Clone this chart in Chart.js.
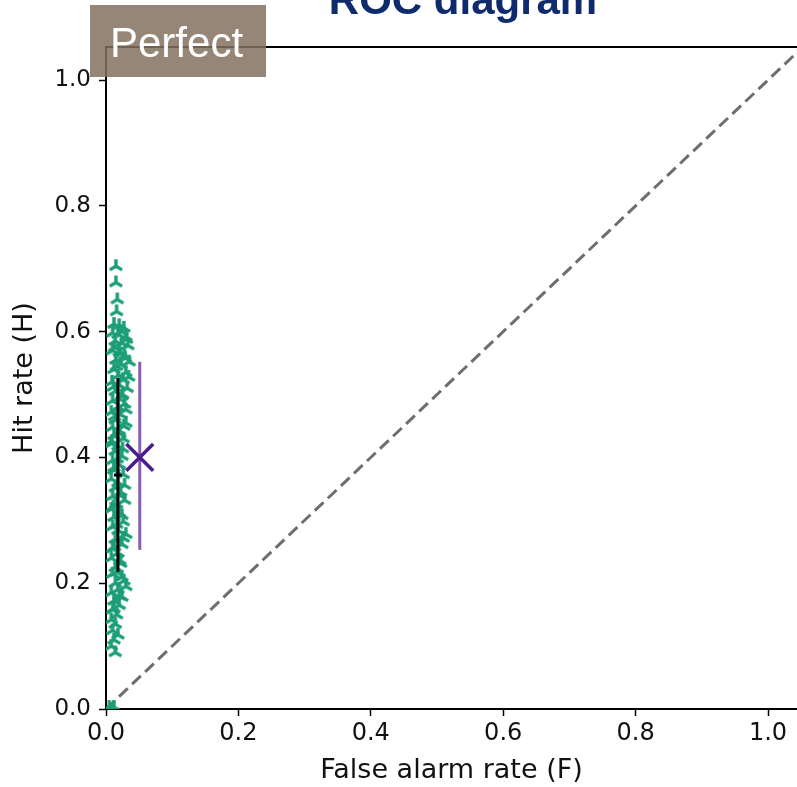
<!DOCTYPE html>
<html>
<head>
<meta charset="utf-8">
<title>ROC diagram</title>
<script src="https://cdn.jsdelivr.net/npm/chart.js@4.4.1/dist/chart.umd.min.js"></script>
<style>
  html, body { margin: 0; padding: 0; background: #fff; }
  #wrap { width: 797px; height: 787px; position: relative; }
</style>
</head>
<body>
<div id="wrap"><canvas id="roc"></canvas></div>
<script>
// Sample points: false alarm rate (F) and hit rate (H)
const falseAlarm = [
  0.015, 0.015, 0.017, 0.016, 0.012, 0.020, 0.027, 0.010, 0.018, 0.030,
  0.014, 0.024, 0.033, 0.010, 0.020, 0.028, 0.015, 0.035, 0.022, 0.012,
  0.030, 0.018, 0.026, 0.009, 0.020, 0.032, 0.014, 0.024, 0.010, 0.028,
  0.018, 0.008, 0.022, 0.014, 0.030, 0.010, 0.020, 0.012, 0.026, 0.008,
  0.018, 0.014, 0.024, 0.010, 0.020, 0.012, 0.026, 0.008, 0.018, 0.014,
  0.022, 0.010, 0.028, 0.016, 0.008, 0.020, 0.012, 0.026, 0.010, 0.018,
  0.030, 0.014, 0.024, 0.010, 0.018, 0.008, 0.022, 0.014, 0.010, 0.024,
  0.014, 0.030, 0.018, 0.008, 0.024, 0.012, 0.020, 0.010, 0.016, 0.008,
  0.014, 0.010, 0.018, 0.012, 0.008, 0.014, 0.005, 0.012, 0.009,
  0.024, 0.031, 0.013, 0.022, 0.029, 0.016, 0.034, 0.011, 0.025, 0.019,
  0.030, 0.013, 0.027, 0.021, 0.009, 0.025, 0.017, 0.012, 0.028, 0.021,
  0.011, 0.024, 0.016, 0.026, 0.013, 0.021, 0.016, 0.027, 0.020, 0.012
];
const hitRate = [
  0.704, 0.678, 0.651, 0.632, 0.612, 0.610, 0.606, 0.598, 0.596, 0.592,
  0.585, 0.582, 0.578, 0.570, 0.568, 0.562, 0.555, 0.552, 0.548, 0.540,
  0.535, 0.530, 0.524, 0.520, 0.515, 0.510, 0.505, 0.498, 0.490, 0.485,
  0.480, 0.472, 0.468, 0.460, 0.455, 0.448, 0.442, 0.435, 0.430, 0.422,
  0.418, 0.410, 0.402, 0.395, 0.388, 0.380, 0.373, 0.366, 0.360, 0.352,
  0.345, 0.338, 0.332, 0.326, 0.318, 0.312, 0.305, 0.298, 0.290, 0.284,
  0.278, 0.270, 0.262, 0.255, 0.248, 0.240, 0.232, 0.225, 0.215, 0.210,
  0.200, 0.195, 0.190, 0.185, 0.178, 0.172, 0.165, 0.158, 0.150, 0.142,
  0.135, 0.125, 0.118, 0.110, 0.100, 0.090, 0.003, 0.003, 0.000,
  0.600, 0.588, 0.575, 0.565, 0.558, 0.545, 0.528, 0.512, 0.500, 0.494,
  0.476, 0.465, 0.450, 0.438, 0.426, 0.414, 0.398, 0.384, 0.356, 0.340,
  0.322, 0.308, 0.294, 0.272, 0.258, 0.236, 0.218, 0.204, 0.180, 0.160
];

// Spread of the samples (black) and the reference forecast (purple)
const sampleF = [0.018, 0.018];
const sampleH = [0.218, 0.526];
const sampleMean = [0.372];
const refF = [0.051, 0.051];
const refH = [0.253, 0.552];
const refPoint = [0.40];

// No-skill diagonal
const diagF = [0, 1.1];
const diagH = [0, 1.1];

// Axis ticks
const tickValues = [0.0, 0.2, 0.4, 0.6, 0.8, 1.0];

const green = "#1b9e77";

// tri_up marker like matplotlib '2'
function makeTri(color) {
  const c = document.createElement("canvas");
  c.width = 16;
  c.height = 16;
  const g = c.getContext("2d");
  g.strokeStyle = color;
  g.lineWidth = 3.4;
  g.beginPath();
  g.moveTo(8, 8); g.lineTo(8, 1);
  g.moveTo(8, 8); g.lineTo(1.8, 11.6);
  g.moveTo(8, 8); g.lineTo(14.2, 11.6);
  g.stroke();
  return c;
}
const triMarker = makeTri(green);

const toPoints = (xs, ys) => xs.map((x, i) => ({ x: x, y: ys[i] }));

// Top spine, title and the "Perfect" tag
const decorPlugin = {
  id: "decor",
  afterDraw(chart) {
    const { ctx, chartArea } = chart;
    ctx.save();
    ctx.strokeStyle = "#000";
    ctx.lineWidth = 2;
    ctx.beginPath();
    ctx.moveTo(chartArea.left - 1, chartArea.top);
    ctx.lineTo(chartArea.right, chartArea.top);
    ctx.stroke();

    ctx.fillStyle = "#0f2b6e";
    ctx.font = "bold 42px 'Liberation Sans', Arial, sans-serif";
    ctx.textAlign = "center";
    ctx.textBaseline = "alphabetic";
    ctx.fillText("ROC diagram", 463, 14);

    ctx.fillStyle = "rgba(130, 113, 95, 0.85)";
    ctx.fillRect(90, 5, 176, 72);
    ctx.fillStyle = "#fff";
    ctx.font = "42px 'Liberation Sans', Arial, sans-serif";
    ctx.textAlign = "left";
    ctx.fillText("Perfect", 110, 57);
    ctx.restore();
  },
};

const noEdgePadding = (scale) => {
  scale.paddingLeft = 0;
  scale.paddingRight = 0;
};

const ctx = document.getElementById("roc").getContext("2d");
new Chart(ctx, {
  type: "scatter",
  data: {
    datasets: [
      {
        label: "diagonal",
        type: "line",
        data: toPoints(diagF, diagH),
        borderColor: "#6e6e6e",
        borderWidth: 3,
        borderDash: [12, 6],
        pointRadius: 0,
        order: 5,
      },
      {
        label: "samples",
        data: toPoints(falseAlarm, hitRate),
        pointStyle: triMarker,
        pointRadius: 8,
        order: 4,
      },
      {
        label: "sample range",
        type: "line",
        data: toPoints(sampleF, sampleH),
        borderColor: "#000",
        borderWidth: 3,
        pointRadius: 0,
        order: 3,
      },
      {
        label: "sample mean",
        data: toPoints([sampleF[0]], sampleMean),
        pointStyle: "line",
        pointRadius: 4,
        borderColor: "#000",
        borderWidth: 3,
        order: 2,
      },
      {
        label: "reference range",
        type: "line",
        data: toPoints(refF, refH),
        borderColor: "#8a5bb3",
        borderWidth: 3,
        pointRadius: 0,
        order: 1,
      },
      {
        label: "reference",
        data: toPoints([refF[0]], refPoint),
        pointStyle: "crossRot",
        pointRadius: 19,
        borderColor: "#4a1d8c",
        borderWidth: 3.5,
        order: 0,
      },
    ],
  },
  options: {
    responsive: true,
    maintainAspectRatio: false,
    animation: false,
    layout: {
      autoPadding: false,
      padding: { top: 47, right: 0, left: 0, bottom: 0 },
    },
    plugins: {
      legend: { display: false },
      tooltip: { enabled: false },
    },
    scales: {
      x: {
        type: "linear",
        min: 0,
        max: 1.0438,
        afterBuildTicks: (scale) => {
          scale.ticks = tickValues.map((v) => ({ value: v }));
        },
        afterFit: (scale) => {
          scale.height = 78;
          noEdgePadding(scale);
        },
        border: { display: true, color: "#000", width: 2 },
        grid: {
          drawOnChartArea: false,
          drawTicks: true,
          tickLength: 7,
          tickColor: "#000",
          tickWidth: 1.5,
        },
        ticks: {
          padding: 3,
          color: "#111",
          font: { family: "'DejaVu Sans', sans-serif", size: 24 },
          maxRotation: 0,
          callback: (v) => v.toFixed(1),
        },
        title: {
          display: true,
          text: "False alarm rate (F)",
          color: "#111",
          font: { family: "'DejaVu Sans', sans-serif", size: 27 },
          padding: { top: 0, bottom: 0 },
        },
      },
      y: {
        type: "linear",
        min: 0,
        max: 1.0525,
        afterBuildTicks: (scale) => {
          scale.ticks = tickValues.map((v) => ({ value: v }));
        },
        afterFit: (scale) => {
          scale.width = 106;
        },
        border: { display: true, color: "#000", width: 2 },
        grid: {
          drawOnChartArea: false,
          drawTicks: true,
          tickLength: 7,
          tickColor: "#000",
          tickWidth: 1.5,
        },
        ticks: {
          padding: 8,
          color: "#111",
          font: { family: "'DejaVu Sans', sans-serif", size: 23 },
          callback: (v) => v.toFixed(1),
        },
        title: {
          display: true,
          text: "Hit rate (H)",
          color: "#111",
          font: { family: "'DejaVu Sans', sans-serif", size: 27 },
          padding: { top: 9, bottom: 0 },
        },
      },
    },
  },
  plugins: [decorPlugin],
});
</script>
</body>
</html>
